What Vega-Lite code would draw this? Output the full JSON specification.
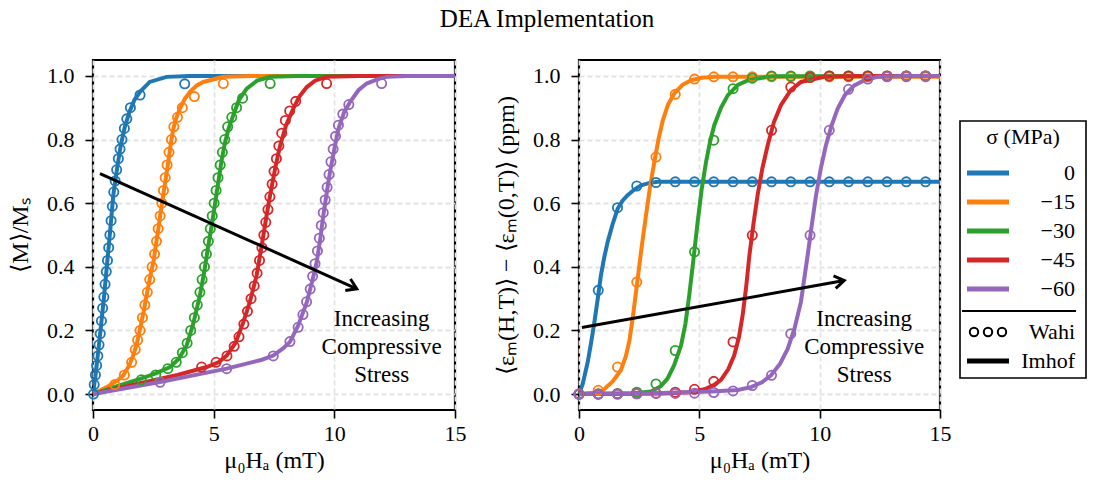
{
  "$schema": "https://vega.github.io/schema/vega-lite/v6.json",
  "background": "white",
  "padding": {"left": 7, "top": 6, "right": 5, "bottom": 6},
  "title": {"text": "DEA Implementation", "fontSize": 25, "font": "Liberation Serif", "fontWeight": "normal", "color": "black", "anchor": "middle", "frame": "bounds", "offset": 27},
  "datasets": {
    "magLines": [
      {"s":"0","H":0,"v":0},{"s":"0","H":0.1,"v":0.055},{"s":"0","H":0.29,"v":0.185},{"s":"0","H":0.45,"v":0.3},{"s":"0","H":0.59,"v":0.415},{"s":"0","H":0.72,"v":0.52},{"s":"0","H":0.84,"v":0.625},{"s":"0","H":1.0,"v":0.71},{"s":"0","H":1.15,"v":0.782},{"s":"0","H":1.32,"v":0.84},{"s":"0","H":1.51,"v":0.887},{"s":"0","H":1.72,"v":0.925},{"s":"0","H":1.95,"v":0.95},{"s":"0","H":2.35,"v":0.981},{"s":"0","H":3.05,"v":0.997},{"s":"0","H":4.0,"v":1.0},{"s":"0","H":15,"v":1.0},
      {"s":"−15","H":0,"v":0},{"s":"−15","H":0.57,"v":0.022},{"s":"−15","H":1.0,"v":0.042},{"s":"−15","H":1.26,"v":0.059},{"s":"−15","H":1.5,"v":0.09},{"s":"−15","H":1.67,"v":0.122},{"s":"−15","H":1.82,"v":0.16},{"s":"−15","H":1.95,"v":0.205},{"s":"−15","H":2.1,"v":0.26},{"s":"−15","H":2.22,"v":0.31},{"s":"−15","H":2.36,"v":0.365},{"s":"−15","H":2.5,"v":0.415},{"s":"−15","H":2.61,"v":0.47},{"s":"−15","H":2.71,"v":0.52},{"s":"−15","H":2.81,"v":0.575},{"s":"−15","H":2.91,"v":0.625},{"s":"−15","H":3.02,"v":0.68},{"s":"−15","H":3.12,"v":0.73},{"s":"−15","H":3.22,"v":0.785},{"s":"−15","H":3.33,"v":0.834},{"s":"−15","H":3.46,"v":0.87},{"s":"−15","H":3.6,"v":0.897},{"s":"−15","H":3.8,"v":0.927},{"s":"−15","H":4.02,"v":0.95},{"s":"−15","H":4.3,"v":0.97},{"s":"−15","H":4.57,"v":0.981},{"s":"−15","H":5.4,"v":0.997},{"s":"−15","H":6.6,"v":1.0},{"s":"−15","H":15,"v":1.0},
      {"s":"−30","H":0,"v":0},{"s":"−30","H":1.0,"v":0.025},{"s":"−30","H":1.95,"v":0.048},{"s":"−30","H":2.6,"v":0.065},{"s":"−30","H":3.19,"v":0.085},{"s":"−30","H":3.55,"v":0.11},{"s":"−30","H":3.88,"v":0.153},{"s":"−30","H":4.15,"v":0.22},{"s":"−30","H":4.43,"v":0.31},{"s":"−30","H":4.6,"v":0.38},{"s":"−30","H":4.78,"v":0.468},{"s":"−30","H":4.92,"v":0.53},{"s":"−30","H":5.06,"v":0.6},{"s":"−30","H":5.2,"v":0.67},{"s":"−30","H":5.33,"v":0.735},{"s":"−30","H":5.47,"v":0.79},{"s":"−30","H":5.62,"v":0.835},{"s":"−30","H":5.81,"v":0.876},{"s":"−30","H":6.05,"v":0.925},{"s":"−30","H":6.37,"v":0.96},{"s":"−30","H":6.8,"v":0.985},{"s":"−30","H":7.34,"v":0.997},{"s":"−30","H":8.5,"v":1.0},{"s":"−30","H":15,"v":1.0},
      {"s":"−45","H":0,"v":0},{"s":"−45","H":2.0,"v":0.035},{"s":"−45","H":3.5,"v":0.06},{"s":"−45","H":4.71,"v":0.085},{"s":"−45","H":5.2,"v":0.1},{"s":"−45","H":5.54,"v":0.121},{"s":"−45","H":5.9,"v":0.16},{"s":"−45","H":6.23,"v":0.226},{"s":"−45","H":6.5,"v":0.29},{"s":"−45","H":6.78,"v":0.373},{"s":"−45","H":6.92,"v":0.435},{"s":"−45","H":7.06,"v":0.499},{"s":"−45","H":7.2,"v":0.565},{"s":"−45","H":7.34,"v":0.625},{"s":"−45","H":7.55,"v":0.71},{"s":"−45","H":7.75,"v":0.78},{"s":"−45","H":8.0,"v":0.845},{"s":"−45","H":8.3,"v":0.897},{"s":"−45","H":8.55,"v":0.935},{"s":"−45","H":8.86,"v":0.965},{"s":"−45","H":9.2,"v":0.985},{"s":"−45","H":9.68,"v":0.997},{"s":"−45","H":11,"v":1.0},{"s":"−45","H":15,"v":1.0},
      {"s":"−60","H":0,"v":0},{"s":"−60","H":2.78,"v":0.038},{"s":"−60","H":5.54,"v":0.08},{"s":"−60","H":7.0,"v":0.108},{"s":"−60","H":7.47,"v":0.121},{"s":"−60","H":7.9,"v":0.145},{"s":"−60","H":8.16,"v":0.164},{"s":"−60","H":8.5,"v":0.215},{"s":"−60","H":8.86,"v":0.289},{"s":"−60","H":9.1,"v":0.36},{"s":"−60","H":9.27,"v":0.415},{"s":"−60","H":9.42,"v":0.49},{"s":"−60","H":9.54,"v":0.56},{"s":"−60","H":9.68,"v":0.63},{"s":"−60","H":9.82,"v":0.698},{"s":"−60","H":10.0,"v":0.77},{"s":"−60","H":10.17,"v":0.834},{"s":"−60","H":10.4,"v":0.885},{"s":"−60","H":10.65,"v":0.918},{"s":"−60","H":11.0,"v":0.955},{"s":"−60","H":11.34,"v":0.976},{"s":"−60","H":11.8,"v":0.99},{"s":"−60","H":12.17,"v":0.997},{"s":"−60","H":13.0,"v":1.0},{"s":"−60","H":15,"v":1.0}
    ],
    "magPoints": [
      {"s":"0","H":0.02,"v":0.0},{"s":"0","H":0.05,"v":0.03},{"s":"0","H":0.1,"v":0.06},{"s":"0","H":0.15,"v":0.09},{"s":"0","H":0.2,"v":0.12},{"s":"0","H":0.25,"v":0.155},{"s":"0","H":0.3,"v":0.19},{"s":"0","H":0.35,"v":0.23},{"s":"0","H":0.4,"v":0.27},{"s":"0","H":0.45,"v":0.305},{"s":"0","H":0.5,"v":0.345},{"s":"0","H":0.55,"v":0.385},{"s":"0","H":0.6,"v":0.42},{"s":"0","H":0.65,"v":0.46},{"s":"0","H":0.7,"v":0.5},{"s":"0","H":0.75,"v":0.545},{"s":"0","H":0.8,"v":0.59},{"s":"0","H":0.86,"v":0.635},{"s":"0","H":0.92,"v":0.67},{"s":"0","H":0.98,"v":0.705},{"s":"0","H":1.05,"v":0.74},{"s":"0","H":1.12,"v":0.77},{"s":"0","H":1.2,"v":0.8},{"s":"0","H":1.3,"v":0.835},{"s":"0","H":1.4,"v":0.865},{"s":"0","H":1.55,"v":0.9},{"s":"0","H":1.95,"v":0.94},{"s":"0","H":3.8,"v":0.975},
      {"s":"−15","H":0.9,"v":0.03},{"s":"−15","H":1.3,"v":0.06},{"s":"−15","H":1.6,"v":0.1},{"s":"−15","H":1.75,"v":0.14},{"s":"−15","H":1.85,"v":0.17},{"s":"−15","H":1.95,"v":0.2},{"s":"−15","H":2.05,"v":0.24},{"s":"−15","H":2.15,"v":0.28},{"s":"−15","H":2.25,"v":0.32},{"s":"−15","H":2.35,"v":0.36},{"s":"−15","H":2.45,"v":0.4},{"s":"−15","H":2.55,"v":0.44},{"s":"−15","H":2.63,"v":0.48},{"s":"−15","H":2.7,"v":0.52},{"s":"−15","H":2.78,"v":0.56},{"s":"−15","H":2.85,"v":0.6},{"s":"−15","H":2.92,"v":0.64},{"s":"−15","H":2.99,"v":0.68},{"s":"−15","H":3.07,"v":0.72},{"s":"−15","H":3.15,"v":0.76},{"s":"−15","H":3.25,"v":0.8},{"s":"−15","H":3.35,"v":0.84},{"s":"−15","H":3.5,"v":0.87},{"s":"−15","H":3.7,"v":0.9},{"s":"−15","H":4.2,"v":0.935},{"s":"−15","H":5.4,"v":0.976},
      {"s":"−30","H":2.0,"v":0.045},{"s":"−30","H":2.6,"v":0.06},{"s":"−30","H":3.1,"v":0.08},{"s":"−30","H":3.45,"v":0.1},{"s":"−30","H":3.7,"v":0.13},{"s":"−30","H":3.9,"v":0.16},{"s":"−30","H":4.05,"v":0.2},{"s":"−30","H":4.2,"v":0.24},{"s":"−30","H":4.32,"v":0.28},{"s":"−30","H":4.43,"v":0.32},{"s":"−30","H":4.52,"v":0.36},{"s":"−30","H":4.62,"v":0.4},{"s":"−30","H":4.7,"v":0.44},{"s":"−30","H":4.78,"v":0.48},{"s":"−30","H":4.86,"v":0.52},{"s":"−30","H":4.94,"v":0.56},{"s":"−30","H":5.02,"v":0.6},{"s":"−30","H":5.1,"v":0.64},{"s":"−30","H":5.18,"v":0.68},{"s":"−30","H":5.27,"v":0.72},{"s":"−30","H":5.36,"v":0.76},{"s":"−30","H":5.46,"v":0.8},{"s":"−30","H":5.58,"v":0.84},{"s":"−30","H":5.75,"v":0.87},{"s":"−30","H":5.95,"v":0.9},{"s":"−30","H":6.2,"v":0.93},{"s":"−30","H":7.34,"v":0.976},
      {"s":"−45","H":4.5,"v":0.085},{"s":"−45","H":5.1,"v":0.1},{"s":"−45","H":5.55,"v":0.12},{"s":"−45","H":5.85,"v":0.15},{"s":"−45","H":6.05,"v":0.18},{"s":"−45","H":6.25,"v":0.22},{"s":"−45","H":6.4,"v":0.26},{"s":"−45","H":6.55,"v":0.3},{"s":"−45","H":6.68,"v":0.34},{"s":"−45","H":6.8,"v":0.38},{"s":"−45","H":6.9,"v":0.42},{"s":"−45","H":7.0,"v":0.46},{"s":"−45","H":7.08,"v":0.5},{"s":"−45","H":7.16,"v":0.54},{"s":"−45","H":7.25,"v":0.58},{"s":"−45","H":7.33,"v":0.62},{"s":"−45","H":7.42,"v":0.66},{"s":"−45","H":7.5,"v":0.7},{"s":"−45","H":7.6,"v":0.74},{"s":"−45","H":7.7,"v":0.78},{"s":"−45","H":7.82,"v":0.82},{"s":"−45","H":7.97,"v":0.86},{"s":"−45","H":8.15,"v":0.89},{"s":"−45","H":8.4,"v":0.92},{"s":"−45","H":9.68,"v":0.976},
      {"s":"−60","H":2.78,"v":0.037},{"s":"−60","H":5.54,"v":0.08},{"s":"−60","H":7.47,"v":0.12},{"s":"−60","H":8.16,"v":0.165},{"s":"−60","H":8.5,"v":0.21},{"s":"−60","H":8.7,"v":0.25},{"s":"−60","H":8.85,"v":0.29},{"s":"−60","H":9.0,"v":0.33},{"s":"−60","H":9.1,"v":0.37},{"s":"−60","H":9.2,"v":0.41},{"s":"−60","H":9.3,"v":0.45},{"s":"−60","H":9.38,"v":0.49},{"s":"−60","H":9.46,"v":0.53},{"s":"−60","H":9.54,"v":0.57},{"s":"−60","H":9.62,"v":0.61},{"s":"−60","H":9.7,"v":0.65},{"s":"−60","H":9.78,"v":0.69},{"s":"−60","H":9.86,"v":0.73},{"s":"−60","H":9.95,"v":0.77},{"s":"−60","H":10.05,"v":0.81},{"s":"−60","H":10.17,"v":0.845},{"s":"−60","H":10.35,"v":0.88},{"s":"−60","H":10.6,"v":0.91},{"s":"−60","H":11.96,"v":0.976}
    ],
    "strainLines": [
      {"s":"0","H":0,"v":0},{"s":"0","H":0.15,"v":0.03},{"s":"0","H":0.36,"v":0.1},{"s":"0","H":0.5,"v":0.16},{"s":"0","H":0.64,"v":0.226},{"s":"0","H":0.78,"v":0.3},{"s":"0","H":0.91,"v":0.373},{"s":"0","H":1.05,"v":0.43},{"s":"0","H":1.19,"v":0.478},{"s":"0","H":1.4,"v":0.535},{"s":"0","H":1.61,"v":0.583},{"s":"0","H":1.8,"v":0.607},{"s":"0","H":2.02,"v":0.625},{"s":"0","H":2.3,"v":0.643},{"s":"0","H":2.58,"v":0.656},{"s":"0","H":2.9,"v":0.663},{"s":"0","H":3.27,"v":0.667},{"s":"0","H":15,"v":0.667},
      {"s":"−15","H":0,"v":0},{"s":"−15","H":0.6,"v":0.004},{"s":"−15","H":1.0,"v":0.012},{"s":"−15","H":1.4,"v":0.04},{"s":"−15","H":1.74,"v":0.075},{"s":"−15","H":1.95,"v":0.12},{"s":"−15","H":2.1,"v":0.17},{"s":"−15","H":2.25,"v":0.25},{"s":"−15","H":2.4,"v":0.34},{"s":"−15","H":2.6,"v":0.46},{"s":"−15","H":2.78,"v":0.56},{"s":"−15","H":2.95,"v":0.65},{"s":"−15","H":3.13,"v":0.73},{"s":"−15","H":3.3,"v":0.8},{"s":"−15","H":3.48,"v":0.86},{"s":"−15","H":3.7,"v":0.91},{"s":"−15","H":3.96,"v":0.945},{"s":"−15","H":4.3,"v":0.972},{"s":"−15","H":4.65,"v":0.986},{"s":"−15","H":5.1,"v":0.994},{"s":"−15","H":5.62,"v":0.997},{"s":"−15","H":15,"v":0.997},
      {"s":"−30","H":0,"v":0},{"s":"−30","H":2.2,"v":0.002},{"s":"−30","H":2.99,"v":0.008},{"s":"−30","H":3.4,"v":0.025},{"s":"−30","H":3.68,"v":0.049},{"s":"−30","H":3.95,"v":0.09},{"s":"−30","H":4.24,"v":0.153},{"s":"−30","H":4.42,"v":0.22},{"s":"−30","H":4.58,"v":0.31},{"s":"−30","H":4.75,"v":0.42},{"s":"−30","H":4.93,"v":0.541},{"s":"−30","H":5.1,"v":0.645},{"s":"−30","H":5.28,"v":0.73},{"s":"−30","H":5.45,"v":0.795},{"s":"−30","H":5.62,"v":0.845},{"s":"−30","H":5.9,"v":0.9},{"s":"−30","H":6.18,"v":0.939},{"s":"−30","H":6.6,"v":0.972},{"s":"−30","H":7.01,"v":0.986},{"s":"−30","H":8.0,"v":0.999},{"s":"−30","H":15,"v":1.0},
      {"s":"−45","H":0,"v":0},{"s":"−45","H":3.5,"v":0.002},{"s":"−45","H":4.6,"v":0.006},{"s":"−45","H":5.21,"v":0.015},{"s":"−45","H":5.6,"v":0.028},{"s":"−45","H":5.9,"v":0.045},{"s":"−45","H":6.2,"v":0.078},{"s":"−45","H":6.45,"v":0.122},{"s":"−45","H":6.65,"v":0.18},{"s":"−45","H":6.8,"v":0.248},{"s":"−45","H":6.95,"v":0.34},{"s":"−45","H":7.08,"v":0.436},{"s":"−45","H":7.25,"v":0.535},{"s":"−45","H":7.42,"v":0.625},{"s":"−45","H":7.62,"v":0.71},{"s":"−45","H":7.84,"v":0.782},{"s":"−45","H":8.1,"v":0.855},{"s":"−45","H":8.39,"v":0.908},{"s":"−45","H":8.8,"v":0.955},{"s":"−45","H":9.22,"v":0.981},{"s":"−45","H":10.19,"v":0.997},{"s":"−45","H":11.5,"v":1.0},{"s":"−45","H":15,"v":1.0},
      {"s":"−60","H":0,"v":0},{"s":"−60","H":3.0,"v":0.003},{"s":"−60","H":5.5,"v":0.008},{"s":"−60","H":6.6,"v":0.013},{"s":"−60","H":7.15,"v":0.022},{"s":"−60","H":7.6,"v":0.037},{"s":"−60","H":7.98,"v":0.059},{"s":"−60","H":8.35,"v":0.095},{"s":"−60","H":8.67,"v":0.142},{"s":"−60","H":8.95,"v":0.205},{"s":"−60","H":9.22,"v":0.289},{"s":"−60","H":9.5,"v":0.436},{"s":"−60","H":9.67,"v":0.53},{"s":"−60","H":9.85,"v":0.625},{"s":"−60","H":10.05,"v":0.71},{"s":"−60","H":10.26,"v":0.782},{"s":"−60","H":10.5,"v":0.845},{"s":"−60","H":10.75,"v":0.897},{"s":"−60","H":11.05,"v":0.94},{"s":"−60","H":11.44,"v":0.97},{"s":"−60","H":11.9,"v":0.988},{"s":"−60","H":12.41,"v":0.997},{"s":"−60","H":13.5,"v":1.0},{"s":"−60","H":15,"v":1.0}
    ],
    "strainPoints": [
      {"s":"0","H":0,"v":0},{"s":"0","H":0.8,"v":0.326},{"s":"0","H":1.6,"v":0.586},{"s":"0","H":2.4,"v":0.654},{"s":"0","H":3.2,"v":0.665},{"s":"0","H":4.0,"v":0.667},{"s":"0","H":4.8,"v":0.667},{"s":"0","H":5.6,"v":0.667},{"s":"0","H":6.4,"v":0.667},{"s":"0","H":7.2,"v":0.667},{"s":"0","H":8.0,"v":0.667},{"s":"0","H":8.8,"v":0.667},{"s":"0","H":9.6,"v":0.667},{"s":"0","H":10.4,"v":0.667},{"s":"0","H":11.2,"v":0.667},{"s":"0","H":12.0,"v":0.667},{"s":"0","H":12.8,"v":0.667},{"s":"0","H":13.6,"v":0.667},{"s":"0","H":14.4,"v":0.667},
      {"s":"−15","H":0,"v":0},{"s":"−15","H":0.8,"v":0.012},{"s":"−15","H":1.6,"v":0.085},{"s":"−15","H":2.4,"v":0.352},{"s":"−15","H":3.2,"v":0.745},{"s":"−15","H":4.0,"v":0.942},{"s":"−15","H":4.8,"v":0.99},{"s":"−15","H":5.6,"v":0.997},{"s":"−15","H":6.4,"v":0.997},{"s":"−15","H":7.2,"v":0.997},{"s":"−15","H":8.0,"v":0.997},{"s":"−15","H":8.8,"v":0.997},{"s":"−15","H":9.6,"v":0.997},{"s":"−15","H":10.4,"v":0.997},{"s":"−15","H":11.2,"v":0.997},{"s":"−15","H":12.0,"v":0.997},{"s":"−15","H":12.8,"v":0.997},{"s":"−15","H":13.6,"v":0.997},{"s":"−15","H":14.4,"v":0.997},
      {"s":"−30","H":0,"v":0},{"s":"−30","H":0.8,"v":0},{"s":"−30","H":1.6,"v":0.002},{"s":"−30","H":2.4,"v":0.006},{"s":"−30","H":3.2,"v":0.032},{"s":"−30","H":4.0,"v":0.137},{"s":"−30","H":4.8,"v":0.447},{"s":"−30","H":5.6,"v":0.798},{"s":"−30","H":6.4,"v":0.96},{"s":"−30","H":7.2,"v":0.993},{"s":"−30","H":8.0,"v":1.0},{"s":"−30","H":8.8,"v":1.0},{"s":"−30","H":9.6,"v":1.0},{"s":"−30","H":10.4,"v":1.0},{"s":"−30","H":11.2,"v":1.0},{"s":"−30","H":12.0,"v":1.0},{"s":"−30","H":12.8,"v":1.0},{"s":"−30","H":13.6,"v":1.0},{"s":"−30","H":14.4,"v":1.0},
      {"s":"−45","H":0,"v":0},{"s":"−45","H":0.8,"v":0},{"s":"−45","H":1.6,"v":0},{"s":"−45","H":2.4,"v":0.001},{"s":"−45","H":3.2,"v":0.003},{"s":"−45","H":4.0,"v":0.006},{"s":"−45","H":4.8,"v":0.015},{"s":"−45","H":5.6,"v":0.04},{"s":"−45","H":6.4,"v":0.164},{"s":"−45","H":7.2,"v":0.499},{"s":"−45","H":8.0,"v":0.829},{"s":"−45","H":8.8,"v":0.965},{"s":"−45","H":9.6,"v":0.995},{"s":"−45","H":10.4,"v":1.0},{"s":"−45","H":11.2,"v":1.0},{"s":"−45","H":12.0,"v":1.0},{"s":"−45","H":12.8,"v":1.0},{"s":"−45","H":13.6,"v":1.0},{"s":"−45","H":14.4,"v":1.0},
      {"s":"−60","H":0,"v":0},{"s":"−60","H":0.8,"v":0},{"s":"−60","H":1.6,"v":0},{"s":"−60","H":2.4,"v":0.001},{"s":"−60","H":3.2,"v":0.002},{"s":"−60","H":4.0,"v":0.002},{"s":"−60","H":4.8,"v":0.003},{"s":"−60","H":5.6,"v":0.005},{"s":"−60","H":6.4,"v":0.01},{"s":"−60","H":7.2,"v":0.027},{"s":"−60","H":8.0,"v":0.059},{"s":"−60","H":8.8,"v":0.19},{"s":"−60","H":9.6,"v":0.499},{"s":"−60","H":10.4,"v":0.829},{"s":"−60","H":11.2,"v":0.958},{"s":"−60","H":12.0,"v":0.99},{"s":"−60","H":12.8,"v":0.998},{"s":"−60","H":13.6,"v":1.0},{"s":"−60","H":14.4,"v":1.0}
    ],
    "magArrow": [{"H":0.29,"v":0.693,"H2":10.93,"v2":0.331}],
    "magArrowTip": [{"H":10.93,"v":0.331}],
    "strainArrow": [{"H":0.12,"v":0.209,"H2":11.02,"v2":0.357}],
    "strainArrowTip": [{"H":11.02,"v":0.357}],
    "magNote": [{"H":11.96,"v":0.236,"label":"Increasing\nCompressive\nStress"}],
    "strainNote": [{"H":11.85,"v":0.236,"label":"Increasing\nCompressive\nStress"}]
  },
  "hconcat": [
    {
      "width": 362,
      "height": 350,
      "encoding": {
        "x": {"field": "H", "type": "quantitative", "scale": {"domain": [0, 15], "nice": false, "zero": false}, "title": "μ₀Hₐ (mT)", "axis": {"values": [0, 5, 10, 15]}},
        "y": {"field": "v", "type": "quantitative", "scale": {"domain": [-0.05, 1.05], "nice": false, "zero": false}, "title": "⟨M⟩/Mₛ", "axis": {"values": [0, 0.2, 0.4, 0.6, 0.8, 1.0], "format": ".1f"}}
      },
      "layer": [
        {
          "data": {"name": "magLines"},
          "mark": {"type": "line", "strokeWidth": 4, "clip": true},
          "encoding": {
            "color": {"field": "s", "type": "nominal", "title": "σ (MPa)",
              "scale": {"domain": ["0", "−15", "−30", "−45", "−60", "Wahi", "Imhof"], "range": ["#1f77b4", "#ff7f0e", "#2ca02c", "#d62728", "#9467bd", "black", "black"]},
              "legend": {
                "symbolType": "M-2.1,0L2.1,0", "symbolSize": 400, "symbolOffset": 11, "symbolStrokeWidth": 5,
                "labelAlign": "right", "labelOffset": 76,
                "encode": {"symbols": {"update": {
                  "shape": {"signal": "datum.value === 'Wahi' ? 'M-1.82,0A0.42,0.42 0 1,0 -0.98,0A0.42,0.42 0 1,0 -1.82,0ZM-0.42,0A0.42,0.42 0 1,0 0.42,0A0.42,0.42 0 1,0 -0.42,0ZM0.98,0A0.42,0.42 0 1,0 1.82,0A0.42,0.42 0 1,0 0.98,0ZM-2.6,-2.1L8.8,-2.1' : 'M-2.1,0L2.1,0'"},
                  "strokeWidth": {"signal": "datum.value === 'Wahi' ? 2 : 5"},
                  "fill": {"value": "transparent"}
                }}}
              }}
          }
        },
        {
          "data": {"name": "magPoints"},
          "mark": {"type": "point", "shape": "circle", "filled": false, "size": 85, "strokeWidth": 1.8, "opacity": 1},
          "encoding": {
            "color": {"field": "s", "type": "nominal", "title": "σ (MPa)",
              "scale": {"domain": ["0", "−15", "−30", "−45", "−60", "Wahi", "Imhof"], "range": ["#1f77b4", "#ff7f0e", "#2ca02c", "#d62728", "#9467bd", "black", "black"]}}
          }
        },
        {
          "data": {"name": "magArrow"},
          "mark": {"type": "rule", "color": "black", "strokeWidth": 3},
          "encoding": {"x2": {"field": "H2"}, "y2": {"field": "v2"}}
        },
        {
          "data": {"name": "magArrowTip"},
          "mark": {"type": "point", "shape": "M-1,-0.65L0,0L-1,0.65", "filled": false, "color": "black", "strokeWidth": 3, "size": 380, "angle": 24.2, "opacity": 1, "strokeJoin": "miter"}
        },
        {
          "data": {"name": "magNote"},
          "mark": {"type": "text", "font": "Liberation Serif", "fontSize": 23, "lineHeight": 28, "align": "center", "baseline": "middle", "lineBreak": "\n", "color": "black"},
          "encoding": {"text": {"field": "label"}}
        }
      ]
    },
    {
      "width": 361,
      "height": 350,
      "encoding": {
        "x": {"field": "H", "type": "quantitative", "scale": {"domain": [0, 15], "nice": false, "zero": false}, "title": "μ₀Hₐ (mT)", "axis": {"values": [0, 5, 10, 15]}},
        "y": {"field": "v", "type": "quantitative", "scale": {"domain": [-0.05, 1.05], "nice": false, "zero": false}, "title": "⟨εₘ(H,T)⟩ − ⟨εₘ(0,T)⟩ (ppm)", "axis": {"values": [0, 0.2, 0.4, 0.6, 0.8, 1.0], "format": ".1f"}}
      },
      "layer": [
        {
          "data": {"name": "strainLines"},
          "mark": {"type": "line", "strokeWidth": 4, "clip": true},
          "encoding": {
            "color": {"field": "s", "type": "nominal", "title": "σ (MPa)",
              "scale": {"domain": ["0", "−15", "−30", "−45", "−60", "Wahi", "Imhof"], "range": ["#1f77b4", "#ff7f0e", "#2ca02c", "#d62728", "#9467bd", "black", "black"]}}
          }
        },
        {
          "data": {"name": "strainPoints"},
          "mark": {"type": "point", "shape": "circle", "filled": false, "size": 85, "strokeWidth": 1.8, "opacity": 1},
          "encoding": {
            "color": {"field": "s", "type": "nominal", "title": "σ (MPa)",
              "scale": {"domain": ["0", "−15", "−30", "−45", "−60", "Wahi", "Imhof"], "range": ["#1f77b4", "#ff7f0e", "#2ca02c", "#d62728", "#9467bd", "black", "black"]}}
          }
        },
        {
          "data": {"name": "strainArrow"},
          "mark": {"type": "rule", "color": "black", "strokeWidth": 3},
          "encoding": {"x2": {"field": "H2"}, "y2": {"field": "v2"}}
        },
        {
          "data": {"name": "strainArrowTip"},
          "mark": {"type": "point", "shape": "M-1,-0.65L0,0L-1,0.65", "filled": false, "color": "black", "strokeWidth": 3, "size": 380, "angle": -10.2, "opacity": 1, "strokeJoin": "miter"}
        },
        {
          "data": {"name": "strainNote"},
          "mark": {"type": "text", "font": "Liberation Serif", "fontSize": 23, "lineHeight": 28, "align": "center", "baseline": "middle", "lineBreak": "\n", "color": "black"},
          "encoding": {"text": {"field": "label"}}
        }
      ]
    }
  ],
  "spacing": 25,
  "resolve": {"scale": {"color": "shared"}, "legend": {"color": "shared"}},
  "config": {
    "font": "Liberation Serif",
    "view": {"stroke": "black", "strokeWidth": 2.2},
    "axis": {
      "labelFont": "Liberation Serif", "titleFont": "Liberation Serif",
      "labelFontSize": 22, "titleFontSize": 24, "titleFontWeight": "normal",
      "labelColor": "black", "titleColor": "black",
      "tickColor": "black", "tickSize": 8, "tickWidth": 1.6,
      "domain": false, "grid": true, "gridColor": "#e3e3e3", "gridDash": [5, 3], "gridWidth": 1.8,
      "labelFlush": false
    },
    "axisX": {"labelPadding": 5, "titlePadding": 4},
    "axisY": {"labelPadding": 11, "titlePadding": 14},
    "legend": {
      "orient": "none",
      "legendX": 867,
      "legendY": 61,
      "strokeColor": "black",
      "strokeWidth": 1.6,
      "fillColor": "white",
      "padding": 6,
      "titleFont": "Liberation Serif", "labelFont": "Liberation Serif",
      "titleFontSize": 22, "labelFontSize": 22, "titleFontWeight": "normal",
      "titleColor": "black", "labelColor": "black",
      "titleAnchor": "middle", "titlePadding": 13,
      "rowPadding": 7,
      "symbolOpacity": 1
    }
  }
}
